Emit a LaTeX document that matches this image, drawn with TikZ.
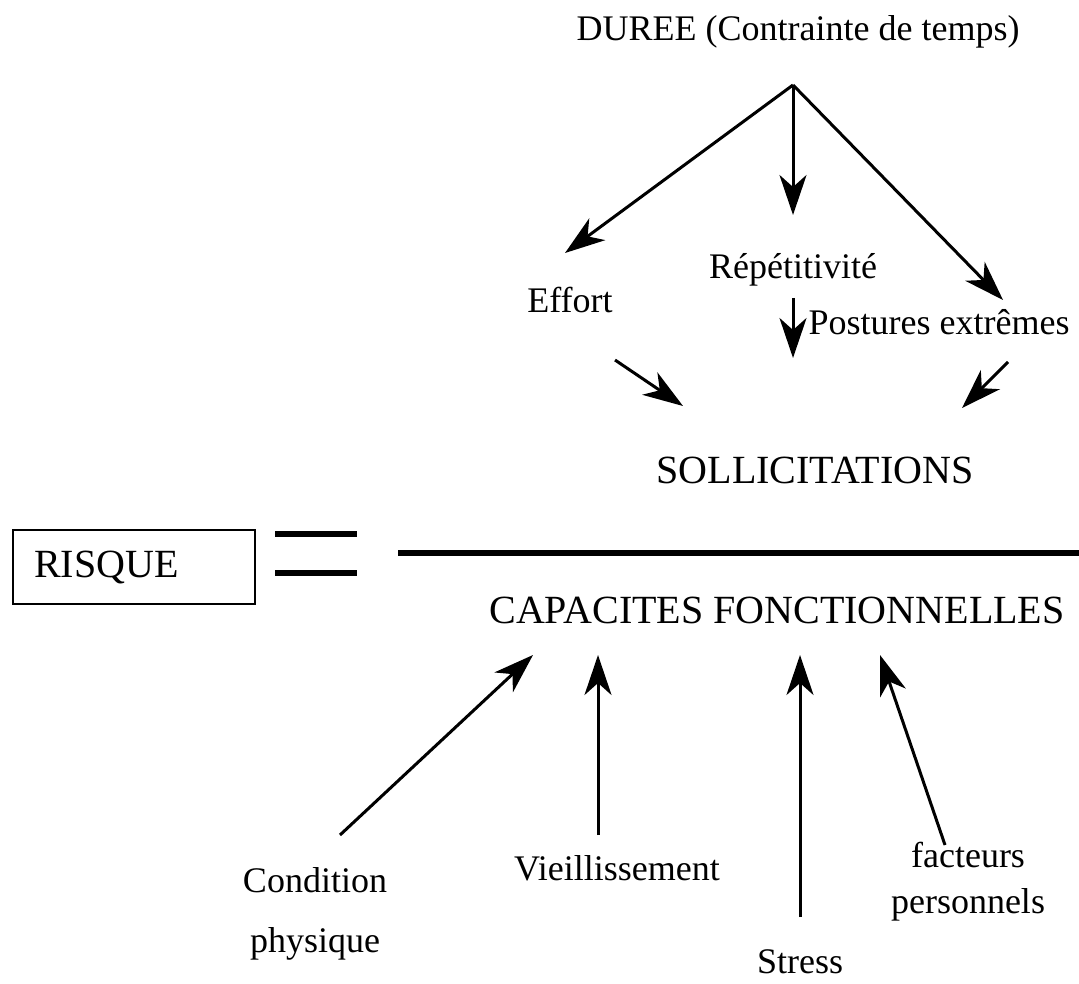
\documentclass[tikz,border=0pt]{standalone}
\usepackage{fontspec}
\setmainfont{Liberation Serif}
\usetikzlibrary{arrows.meta}
\usetikzlibrary{positioning}

\begin{document}
\begin{tikzpicture}[x=0.5pt, y=-0.5pt,
	fleche/.style={black, line width=1.5pt, -{Stealth[length=20pt, width=13.5pt, inset=6pt]}},
	petit/.style={font=\fontsize{18}{22}\selectfont, inner sep=0pt},
	grand/.style={font=\fontsize{20}{24}\selectfont, inner sep=0pt}]
	\useasboundingbox (0, 0) rectangle (1079, 983);
	% sollicitations
	\node[petit] (duree) at (798, 32) {DUREE (Contrainte de temps)};
	\coordinate (sommet) at (793, 85);
	\node[petit] (effort) at (570, 300) {Effort};
	\node[petit] (repet) at (793, 270) {Répétitivité};
	\node[petit] (postures) at (939, 322) {Postures extrêmes};
	\node[grand] (sollic) at (815, 470) {SOLLICITATIONS};
	\coordinate (eff-bout) at (565, 253);
	\coordinate (rep-bout) at (793, 215);
	\coordinate (pos-bout) at (1003, 300);
	\draw[fleche] (sommet)--(eff-bout);
	\draw[fleche] (sommet)--(rep-bout);
	\draw[fleche] (sommet)--(pos-bout);
	\coordinate (e1) at (615, 360);
	\coordinate (e2) at (683, 406);
	\coordinate (r1) at (793, 298);
	\coordinate (r2) at (793, 358);
	\coordinate (p1) at (1008, 362);
	\coordinate (p2) at (962, 408);
	\draw[fleche] (e1)--(e2);
	\draw[fleche] (r1)--(r2);
	\draw[fleche] (p1)--(p2);
	% fraction
	\node[grand, draw, line width=1pt, minimum width=121pt, minimum height=37pt, text width=100pt, inner sep=0pt] (risque) at (134, 567) {RISQUE};
	\coordinate (eg1) at (275, 534);
	\coordinate (eg2) at (357, 534);
	\coordinate (eg3) at (275, 573);
	\coordinate (eg4) at (357, 573);
	\draw[black, line width=3pt] (eg1)--(eg2);
	\draw[black, line width=3pt] (eg3)--(eg4);
	\coordinate (barre-g) at (398, 553);
	\coordinate (barre-d) at (1079, 553);
	\draw[black, line width=3pt] (barre-g)--(barre-d);
	\node[grand] (capacites) at (777, 610) {CAPACITES FONCTIONNELLES};
	% capacites
	\node[petit, align=center] (condition) at (315, 914) {Condition\\[8pt] physique};
	\node[petit] (vieil) at (617, 868) {Vieillissement};
	\node[petit] (stress) at (800, 962) {Stress};
	\node[petit, align=center] (facteurs) at (968, 882) {facteurs\\[1pt] personnels};
	\coordinate (c1) at (340, 835);
	\coordinate (c2) at (533, 655);
	\coordinate (v1) at (598, 835);
	\coordinate (v2) at (598, 655);
	\coordinate (s1) at (800, 917);
	\coordinate (s2) at (800, 655);
	\coordinate (f1) at (945, 845);
	\coordinate (f2) at (880, 655);
	\draw[fleche] (c1)--(c2);
	\draw[fleche] (v1)--(v2);
	\draw[fleche] (s1)--(s2);
	\draw[fleche] (f1)--(f2);
\end{tikzpicture}
\end{document}
